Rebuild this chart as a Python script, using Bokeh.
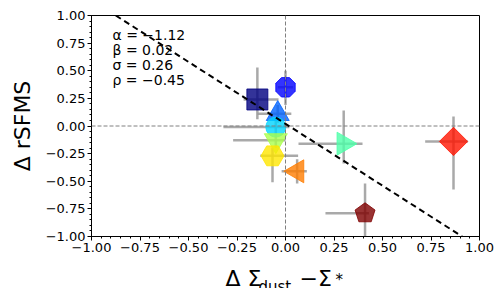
from bokeh.plotting import figure
from bokeh.layouts import column
from bokeh.models import Label, Span, Slope, FixedTicker, Range1d
from bokeh.embed import file_html
from bokeh.resources import INLINE
from bokeh.core.properties import value
import numpy as np

# ---- data ----
x_vals = [-0.145, 0.0, -0.04, -0.05, 0.30, -0.05, -0.067, 0.06, 0.866, 0.41]
y_vals = [0.24, 0.35, 0.11, -0.01, -0.16, -0.13, -0.27, -0.41, -0.14, -0.79]
x_lo = [-0.216, -0.04, -0.145, -0.32, 0.067, -0.27, -0.13, -0.02, 0.72, 0.206]
x_hi = [-0.036, 0.04, 0.03, 0.02, 0.397, 0.0, 0.065, 0.11, 0.94, 0.43]
y_lo = [0.06, 0.19, 0.03, -0.08, -0.34, -0.20, -0.51, -0.52, -0.575, -1.05]
y_hi = [0.53, 0.50, 0.19, 0.06, 0.14, -0.07, -0.195, -0.30, 0.085, -0.52]

fit_alpha = -1.12
fit_beta = 0.02
fit_sigma = 0.26
fit_rho = -0.45

tick_values = [-1.0, -0.75, -0.5, -0.25, 0.0, 0.25, 0.5, 0.75, 1.0]
tick_labels = ["\u22121.00", "\u22120.75", "\u22120.50", "\u22120.25", "0.00",
               "0.25", "0.50", "0.75", "1.00"]

y_label = "\u0394 rSFMS"
x_label_parts = ["\u0394 \u03a3", "dust", "\u2212\u03a3", "*"]

# ---- styles ----
colors = ["#000080", "#0000ff", "#0063ff", "#00d4ff", "#4effa9",
          "#a9ff4e", "#ffe600", "#ff7d00", "#ff1400", "#800000"]
markers = ["square", "octagon", "triangle", "circle", "triangle",
           "inverted_triangle", "hex", "triangle", "square", "pentagon"]
angles = [0, 0, 0, 0, -np.pi / 2, 0, 0, np.pi / 2, np.pi / 4, 0]
sizes = [21, 20, 23, 20, 23, 23, 23, 23, 20, 20]

FONT = "DejaVu Sans"
W = 504
H_MAIN = 260
H_LABEL = 28
FRAME_L, FRAME_R = 91, 479

p = figure(width=W, height=H_MAIN, x_range=(-1, 1), y_range=(-1, 1),
           output_backend="svg", toolbar_location=None,
           min_border_left=FRAME_L, min_border_right=W - FRAME_R, min_border_top=15, min_border_bottom=24)
p.grid.visible = False
p.outline_line_color = "black"
p.outline_line_width = 1
p.background_fill_color = "white"
p.border_fill_color = "white"

minor = [round(v, 2) for v in np.arange(-1.0, 1.0001, 0.05)]
for ax in (p.xaxis[0], p.yaxis[0]):
    ax.ticker = FixedTicker(ticks=tick_values, minor_ticks=minor)
    ax.major_label_overrides = {v: s for v, s in zip(tick_values, tick_labels)}
    ax.major_label_text_font = FONT
    ax.major_label_text_font_size = "13px"
    ax.major_label_text_color = "black"
    ax.major_tick_in = 0
    ax.major_tick_out = 4
    ax.minor_tick_in = 0
    ax.minor_tick_out = 2
    ax.axis_line_color = "black"
    ax.major_tick_line_color = "black"
    ax.minor_tick_line_color = "black"
    ax.major_label_standoff = 2

p.yaxis.axis_label = y_label
p.yaxis.axis_label_text_font = FONT
p.yaxis.axis_label_text_font_size = "22px"
p.yaxis.axis_label_text_font_style = "normal"
p.yaxis.axis_label_text_color = "black"
p.yaxis.axis_label_standoff = 8

# zero reference lines
p.add_layout(Span(location=0, dimension="width", line_color="gray", line_width=1, line_dash="4 2"))
p.add_layout(Span(location=0, dimension="height", line_color="gray", line_width=1, line_dash="4 2"))

# fit line
p.add_layout(Slope(gradient=fit_alpha, y_intercept=fit_beta, line_color="black",
                   line_width=2, line_dash="6 4"))

# error bars
p.segment(x0=x_lo, y0=y_vals, x1=x_hi, y1=y_vals, line_color="#9a9a9a", line_alpha=0.85, line_width=2.5)
p.segment(x0=x_vals, y0=y_lo, x1=x_vals, y1=y_hi, line_color="#9a9a9a", line_alpha=0.85, line_width=2.5)

# markers
for i in range(len(x_vals)):
    m = markers[i]
    kw = dict(fill_color=colors[i], fill_alpha=0.8, line_color=colors[i], line_alpha=0.8, line_width=1)
    if m in ("octagon", "pentagon"):
        n = 8 if m == "octagon" else 5
        try:
            p.ngon(x=[x_vals[i]], y=[y_vals[i]], radius=sizes[i] / 2 + 0.5, radius_units="screen",
                   n=n, angle=(np.pi / 8 if n == 8 else 0), **kw)
        except Exception:
            p.scatter(x=[x_vals[i]], y=[y_vals[i]], marker="circle", size=sizes[i], **kw)
    else:
        p.scatter(x=[x_vals[i]], y=[y_vals[i]], marker=m, size=sizes[i], angle=angles[i], **kw)

# statistics text
stats = [f"\u03b1 = \u2212{abs(fit_alpha):.2f}",
         f"\u03b2 = {fit_beta:.2f}",
         f"\u03c3 = {fit_sigma:.2f}",
         f"\u03c1 = \u2212{abs(fit_rho):.2f}"]
for k, s in enumerate(stats):
    p.add_layout(Label(x=21, y=202 - 15.3 * k, x_units="screen", y_units="screen", text=s,
                       text_font=FONT, text_font_size="14px", text_color="black",
                       text_baseline="alphabetic"))

# x-axis label strip below the plot (its frame is aligned with the main frame;
# coordinates are page pixels), with subscripts
q = figure(width=W, height=H_LABEL, x_range=Range1d(FRAME_L, FRAME_R), y_range=Range1d(H_LABEL, 0),
           output_backend="svg", toolbar_location=None,
           x_axis_location=None, y_axis_location=None,
           min_border_left=0, min_border_right=0, min_border_top=0, min_border_bottom=0)
q.grid.visible = False
q.outline_line_color = None
q.background_fill_color = "white"
q.border_fill_color = "white"
part_x = [225, 258, 299, 335]
part_y = [18, 26, 18, 19]
part_fs = ["22px", "15px", "22px", "15px"]
for s, xx, yy, fs in zip(x_label_parts, part_x, part_y, part_fs):
    q.text(x=[xx], y=[yy], text=[s], text_font=value(FONT), text_font_size=value(fs),
           text_color="black", text_baseline="alphabetic", text_align="left")

layout = column(p, q, spacing=0)
open("out.html", "w").write(file_html(layout, INLINE))
